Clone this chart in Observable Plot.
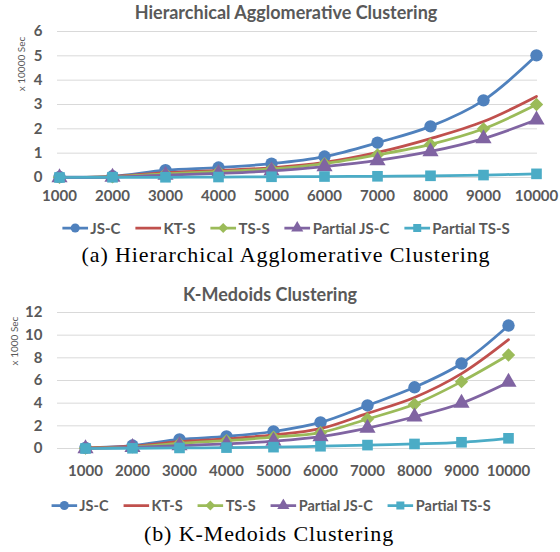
<!DOCTYPE html>
<html>
<head>
<meta charset="utf-8">
<script src="https://cdn.jsdelivr.net/npm/d3@7"></script>
<script src="https://cdn.jsdelivr.net/npm/@observablehq/plot@0.6"></script>
<style>
  body { margin: 0; background: #fff; }
  #root { position: relative; width: 560px; height: 552px; overflow: hidden; font-family: Lato, "Open Sans", sans-serif; background: #fff; }
  .abs { position: absolute; }
  .title { font-weight: bold; color: #595959; font-size: 18px; white-space: nowrap; transform: translate(-50%, -50%); }
  .ylab { font-size: 10px; color: #595959; white-space: nowrap; transform: translate(-50%, -50%) rotate(-90deg); }
  .legend { display: flex; align-items: center; white-space: nowrap; transform: translate(-50%, -50%); font-weight: bold; color: #595959; font-size: 15px; }
  .legend .item { display: flex; align-items: center; margin-right: 15px; }
  .legend .item:last-child { margin-right: 0; }
  .legend svg { display: block; margin-right: 2px; }
  .caption { font-family: "Liberation Serif", serif; font-size: 22px; letter-spacing: 0.9px; color: #000; white-space: nowrap; transform: translate(-50%, -50%); }
</style>
</head>
<body>
<div id="root"></div>
<script>
// ---- data ----
const sizes = ["1000", "2000", "3000", "4000", "5000", "6000", "7000", "8000", "9000", "10000"];
const seriesNames = ["JS-C", "KT-S", "TS-S", "Partial JS-C", "Partial TS-S"];
const seriesColors = ["#4F81BD", "#C0504D", "#9BBB59", "#8064A2", "#4BACC6"];
const seriesSymbols = ["circle", null, "diamond2", "triangle", "square"];

// Hierarchical Agglomerative Clustering (x 10000 Sec)
const hacJSC        = [0.02, 0.05, 0.30, 0.41, 0.57, 0.86, 1.43, 2.10, 3.17, 5.02];
const hacKTS        = [0.01, 0.04, 0.20, 0.29, 0.40, 0.62, 1.03, 1.60, 2.30, 3.33];
const hacTSS        = [0.01, 0.03, 0.15, 0.24, 0.35, 0.57, 0.93, 1.36, 2.00, 3.00];
const hacPartialJSC = [0.00, 0.02, 0.10, 0.17, 0.27, 0.45, 0.70, 1.07, 1.60, 2.37];
const hacPartialTSS = [0.00, 0.01, 0.01, 0.02, 0.03, 0.04, 0.05, 0.07, 0.10, 0.15];
const hacYTicks = [0, 1, 2, 3, 4, 5, 6];

// K-Medoids Clustering (x 1000 Sec)
const kmJSC        = [0.05, 0.26, 0.80, 1.06, 1.50, 2.30, 3.80, 5.40, 7.50, 10.85];
const kmKTS        = [0.05, 0.20, 0.60, 0.85, 1.20, 1.75, 3.10, 4.50, 6.60, 9.60];
const kmTSS        = [0.03, 0.15, 0.45, 0.70, 1.00, 1.40, 2.60, 3.90, 5.90, 8.25];
const kmPartialJSC = [0.00, 0.10, 0.25, 0.40, 0.65, 1.05, 1.80, 2.80, 4.00, 5.85];
const kmPartialTSS = [0.00, 0.02, 0.05, 0.08, 0.12, 0.20, 0.30, 0.40, 0.55, 0.90];
const kmYTicks = [0, 2, 4, 6, 8, 10, 12];

const titles = ["Hierarchical Agglomerative Clustering", "K-Medoids Clustering"];
const yLabels = ["x 10000 Sec", "x 1000 Sec"];
const captions = ["(a) Hierarchical Agglomerative Clustering", "(b) K-Medoids Clustering"];

// ---- build ----
const root = document.getElementById("root");

function makeChart({values, yTicks, height, marginTop, marginBottom, marginRight, xPadding, tickPaddingX}) {
  const marks = [Plot.ruleY(yTicks, {stroke: "#d9d9d9", strokeWidth: 1})];
  seriesNames.forEach((name, i) => {
    const d = sizes.map((s, j) => ({size: s, value: values[i][j]}));
    marks.push(Plot.line(d, {x: "size", y: "value", stroke: seriesColors[i], strokeWidth: 2.75, curve: "catmull-rom"}));
    if (seriesSymbols[i]) {
      marks.push(Plot.dot(d, {x: "size", y: "value", symbol: seriesSymbols[i], r: seriesSymbols[i] === "circle" ? 6.2 : 6, fill: seriesColors[i], stroke: "none"}));
    }
  });
  marks.push(Plot.axisX({tickSize: 0, tickPadding: tickPaddingX, fontSize: 15, fontWeight: "bold", fill: "#595959", label: null}));
  marks.push(Plot.axisY({ticks: yTicks, tickFormat: d => String(d), tickSize: 0, tickPadding: 15, fontSize: 15, fontWeight: "bold", fill: "#595959", label: null}));
  return Plot.plot({
    width: 560,
    height,
    marginTop,
    marginBottom,
    marginLeft: 57,
    marginRight,
    x: {type: "point", domain: sizes, padding: xPadding, align: 0.5},
    y: {domain: [0, yTicks[yTicks.length - 1]]},
    style: {fontFamily: "Lato, 'Open Sans', sans-serif", background: "transparent", overflow: "visible", color: "#595959"},
    marks
  });
}

function place(el, left, top) {
  el.classList.add("abs");
  el.style.left = left + "px";
  el.style.top = top + "px";
  root.appendChild(el);
  return el;
}
function textDiv(cls, text, x, y) {
  const d = document.createElement("div");
  d.className = cls;
  d.textContent = text;
  return place(d, x, y);
}
function legend(x, y, fontSize) {
  const div = document.createElement("div");
  div.className = "legend";
  div.style.fontSize = fontSize + "px";
  seriesNames.forEach((name, i) => {
    const item = document.createElement("div");
    item.className = "item";
    const svg = d3.create("svg").attr("width", 26).attr("height", 14);
    svg.append("line").attr("x1", 0).attr("x2", 26).attr("y1", 7).attr("y2", 7)
      .attr("stroke", seriesColors[i]).attr("stroke-width", 2.75);
    const symMap = {circle: d3.symbolCircle, diamond2: d3.symbolDiamond2, triangle: d3.symbolTriangle, square: d3.symbolSquare};
    if (seriesSymbols[i]) {
      svg.append("path").attr("d", d3.symbol(symMap[seriesSymbols[i]], 64)()).attr("transform", "translate(13,7)").attr("fill", seriesColors[i]);
    }
    item.appendChild(svg.node());
    const span = document.createElement("span");
    span.textContent = name;
    item.appendChild(span);
    div.appendChild(item);
  });
  return place(div, x, y);
}

// chart (a)
const svgA = makeChart({
  values: [hacJSC, hacKTS, hacTSS, hacPartialJSC, hacPartialTSS],
  yTicks: hacYTicks, height: 210, marginTop: 31, marginBottom: 33, marginRight: 23, xPadding: 0, tickPaddingX: 13
});
place(svgA, 0, 0);
textDiv("title", titles[0], 286, 12);
textDiv("ylab", yLabels[0], 21, 64);
legend(286, 228, 15);
textDiv("caption", captions[0], 286, 255);

// chart (b)
const svgB = makeChart({
  values: [kmJSC, kmKTS, kmTSS, kmPartialJSC, kmPartialTSS],
  yTicks: kmYTicks, height: 215, marginTop: 42, marginBottom: 37, marginRight: 25, xPadding: 0.5, tickPaddingX: 17
});
place(svgB, 0, 270);
textDiv("title", titles[1], 270, 294);
textDiv("ylab", yLabels[1], 14, 341);
legend(271, 505, 14.5);
textDiv("caption", captions[1], 269, 534);
</script>
</body>
</html>
